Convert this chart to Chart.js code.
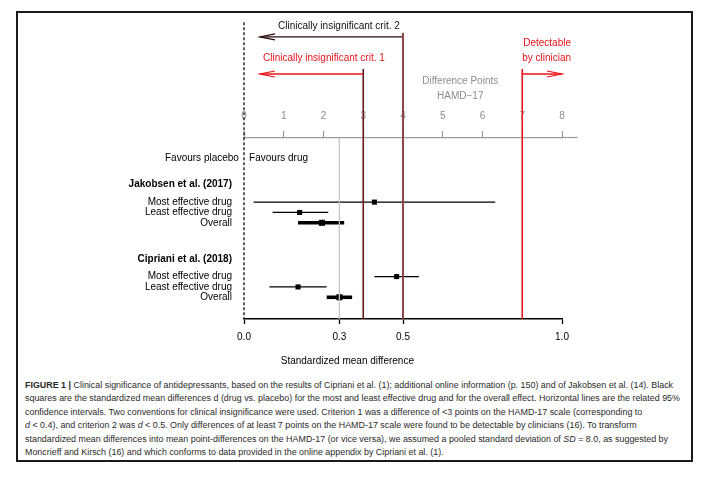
<!DOCTYPE html>
<html>
<head>
<meta charset="utf-8">
<script src="https://cdn.jsdelivr.net/npm/chart.js@4.4.1/dist/chart.umd.min.js"></script>
<style>
html,body{margin:0;padding:0;background:#fff;}
body{width:712px;height:478px;position:relative;overflow:hidden;font-family:"Liberation Sans",Arial,sans-serif;}
#frame{position:absolute;left:16px;top:11px;width:673px;height:447px;border:2px solid #1a1a1a;}
#chart{position:absolute;left:0;top:0;}
#caption{position:absolute;left:25px;top:379px;font-size:8px;line-height:13.4px;color:#2a2a2a;white-space:nowrap;}
#caption span{white-space:nowrap;}
</style>
</head>
<body>
<div id="frame"></div>
<canvas id="chart" width="712" height="372"></canvas>
<div id="caption">
  <div><span><b>FIGURE 1 |</b> Clinical significance of antidepressants, based on the results of Cipriani et al. (1); additional online information (p. 150) and of Jakobsen et al. (14). Black</span></div>
  <div><span>squares are the standardized mean differences d (drug vs. placebo) for the most and least effective drug and for the overall effect. Horizontal lines are the related 95%</span></div>
  <div><span>confidence intervals. Two conventions for clinical insignificance were used. Criterion 1 was a difference of &lt;3 points on the HAMD-17 scale (corresponding to</span></div>
  <div><span><i>d</i> &lt; 0.4), and criterion 2 was <i>d</i> &lt; 0.5. Only differences of at least 7 points on the HAMD-17 scale were found to be detectable by clinicians (16). To transform</span></div>
  <div><span>standardized mean differences into mean point-differences on the HAMD-17 (or vice versa), we assumed a pooled standard deviation of <i>SD</i> = 8.0, as suggested by</span></div>
  <div><span>Moncrieff and Kirsch (16) and which conforms to data provided in the online appendix by Cipriani et al. (1).</span></div>
</div>
<script>
/* ── DATA ───────────────────────────────────────────────── */
const studyNames   = ['Jakobsen et al. (2017)', 'Cipriani et al. (2018)'];
const rowNames     = ['Most effective drug', 'Least effective drug', 'Overall'];
const jakobsenD    = [0.41, 0.175, 0.245];
const jakobsenLo   = [0.03, 0.09, 0.17];
const jakobsenHi   = [0.79, 0.265, 0.315];
const ciprianiD    = [0.48, 0.17, 0.30];
const ciprianiLo   = [0.41, 0.08, 0.26];
const ciprianiHi   = [0.55, 0.26, 0.34];
const pointTicks   = [0, 1, 2, 3, 4, 5, 6, 7, 8];
const dTicks       = [0, 0.3, 0.5, 1.0];
const SD = 8;
const crit1Points  = 3;     // < 3 points HAMD-17
const crit2D       = 0.5;   // d < 0.5
const detectPoints = 7;     // >= 7 points detectable

/* ── LAYOUT (y units: top axis = 0, bottom axis = 17.5) ─── */
const Y_BOTTOM = 17.5;
const rowPos = [[4.5, 6.2, 7.2, 8.2], [11.7, 13.4, 14.4, 15.4]];
const FONT = '"Liberation Sans", Arial, sans-serif';
const RED = '#e8141a';

const allD  = [jakobsenD, ciprianiD];
const allLo = [jakobsenLo, ciprianiLo];
const allHi = [jakobsenHi, ciprianiHi];

/* y-axis labels */
const yTickPos = [], yTickLabels = [], headerIdx = [];
studyNames.forEach((s, i) => {
  headerIdx.push(yTickPos.length);
  yTickPos.push(rowPos[i][0]); yTickLabels.push(s);
  rowNames.forEach((r, j) => { yTickPos.push(rowPos[i][j + 1]); yTickLabels.push(r); });
});

/* ── DATASETS ───────────────────────────────────────────── */
const datasets = [];
const refLines = [
  { d: 0,                  top: -11.2,  color: '#111',    width: 1.3, dash: [3, 2] },
  { d: 0.3,                top: 0,      color: '#c6c6c6', width: 1 },
  { d: crit1Points / SD,   top: -6.67,  color: '#6b1818', width: 1.6 },
  { d: crit2D,             top: -10.15, color: '#8e4646', width: 2 },
  { d: detectPoints / SD,  top: -6.67,  color: RED,       width: 1.6 },
];
refLines.forEach(l => datasets.push({
  data: [{ x: l.d, y: l.top }, { x: l.d, y: Y_BOTTOM }],
  borderColor: l.color, borderWidth: l.width, borderDash: l.dash || [], pointRadius: 0
}));

const arrows = [
  { from: crit2D,            to: 0.05, y: -9.77, color: '#2b0b0b' },
  { from: crit1Points / SD,  to: 0.05, y: -6.19, color: RED },
  { from: detectPoints / SD, to: 1.0,  y: -6.19, color: RED },
];
arrows.forEach(a => datasets.push({
  data: [{ x: a.from, y: a.y }, { x: a.to, y: a.y }],
  borderColor: a.color, borderWidth: 1.3, pointRadius: 0, arrow: true
}));

const pts = [], ptRadius = [];
allD.forEach((ds, i) => {
  ds.forEach((d, j) => {
    const y = rowPos[i][j + 1];
    const overall = j === 2;
    datasets.push({
      data: [{ x: allLo[i][j], y }, { x: allHi[i][j], y }],
      borderColor: '#000', borderWidth: overall ? 3.6 : 1.3, pointRadius: 0
    });
    pts.push({ x: d, y });
    ptRadius.push(overall ? 4.3 : 3.6);
  });
});
datasets.push({
  data: pts, showLine: false, pointStyle: 'rect', pointRadius: ptRadius,
  pointBackgroundColor: '#000', pointBorderWidth: 0
});

/* ── ANNOTATION PLUGIN ──────────────────────────────────── */
const annot = {
  id: 'annot',
  afterDatasetsDraw(chart) {
    const ctx = chart.ctx, xs = chart.scales.x, ys = chart.scales.y, x2 = chart.scales.x2;
    ctx.save();
    // arrowheads
    chart.data.datasets.forEach((ds, i) => {
      if (!ds.arrow) return;
      const els = chart.getDatasetMeta(i).data;
      const a = els[0], b = els[1];
      const dir = Math.sign(b.x - a.x);
      ctx.strokeStyle = ds.borderColor; ctx.lineWidth = 1.2;
      ctx.beginPath();
      ctx.moveTo(b.x - dir * 15, b.y - 3); ctx.lineTo(b.x, b.y); ctx.lineTo(b.x - dir * 15, b.y + 3);
      ctx.stroke();
    });
    // extended top axis line
    ctx.strokeStyle = '#9a9a9a'; ctx.lineWidth = 1.2;
    ctx.beginPath(); ctx.moveTo(xs.right, x2.bottom - 0.5); ctx.lineTo(x2.getPixelForValue(8.4), x2.bottom - 0.5); ctx.stroke();

    ctx.textBaseline = 'middle';
    ctx.font = '10px ' + FONT;
    const t = (s, d, y, color, align) => {
      ctx.fillStyle = color; ctx.textAlign = align;
      ctx.fillText(s, xs.getPixelForValue(d), ys.getPixelForValue(y));
    };
    t('Clinically insignificant crit. 2', crit2D - 0.01, -10.83, '#111', 'right');
    t('Clinically insignificant crit. 1', 0.06, -7.73, RED, 'left');
    t('Detectable', detectPoints / SD + 0.003, -9.18, RED, 'left');
    t('by clinician', detectPoints / SD, -7.73, RED, 'left');
    t('Difference Points', 0.68, -5.51, '#8c8c8c', 'center');
    t('HAMD\u221217', 0.68, -4.06, '#8c8c8c', 'center');
    t('Favours placebo', -0.016, 2, '#000', 'right');
    t('Favours drug', 0.016, 2, '#000', 'left');
    ctx.fillStyle = '#000'; ctx.textAlign = 'center';
    ctx.fillText('Standardized mean difference', xs.getPixelForValue(0.325), ys.bottom + 42);
    ctx.restore();
  }
};

Chart.defaults.font.family = FONT;
Chart.defaults.font.size = 10;

new Chart(document.getElementById('chart'), {
  type: 'line',
  data: { datasets },
  plugins: [annot],
  options: {
    responsive: false, animation: false, devicePixelRatio: 1,
    layout: { padding: { left: 0, right: 150, top: 98, bottom: 6 } },
    datasets: { line: { clip: false } },
    plugins: { legend: { display: false }, tooltip: { enabled: false } },
    scales: {
      x: {
        type: 'linear', position: 'bottom', min: 0, max: 1,
        afterBuildTicks: s => { s.ticks = dTicks.map(v => ({ value: v })); },
        afterFit: s => { s.height = 47; },
        ticks: { autoSkip: false, maxRotation: 0, padding: 7, color: '#000', callback: v => v.toFixed(1) },
        grid: { drawOnChartArea: false, tickLength: 5, color: '#000', tickWidth: 1.3 },
        border: { color: '#000', width: 1.5 }
      },
      x2: {
        type: 'linear', position: 'top', min: 0, max: SD,
        afterBuildTicks: s => { s.ticks = pointTicks.map(v => ({ value: v })); },
        afterFit: s => { s.height = 40; },
        ticks: { autoSkip: false, maxRotation: 0, padding: 9, color: '#8c8c8c' },
        grid: { drawOnChartArea: false, tickLength: 7, color: '#9a9a9a', tickWidth: 1.2 },
        border: { color: '#9a9a9a', width: 1.2 }
      },
      y: {
        type: 'linear', position: 'left', reverse: true, min: 0, max: Y_BOTTOM,
        afterBuildTicks: s => { s.ticks = yTickPos.map(v => ({ value: v })); },
        afterFit: s => { s.width = 244; },
        ticks: {
          autoSkip: false, padding: 12, color: '#000',
          callback: (v, i) => yTickLabels[i],
          font: c => headerIdx.includes(c.index) ? { size: 10, weight: 'bold' } : { size: 10 }
        },
        grid: { display: false, drawTicks: false },
        border: { display: false }
      }
    }
  }
});

/* caption width fit: widest line runs to the right edge of the box */
const spans = document.querySelectorAll('#caption span');
const w = Math.max(...Array.from(spans).map(s => s.getBoundingClientRect().width));
document.getElementById('caption').style.fontSize = (8 * 656 / w).toFixed(2) + 'px';
</script>
</body>
</html>
